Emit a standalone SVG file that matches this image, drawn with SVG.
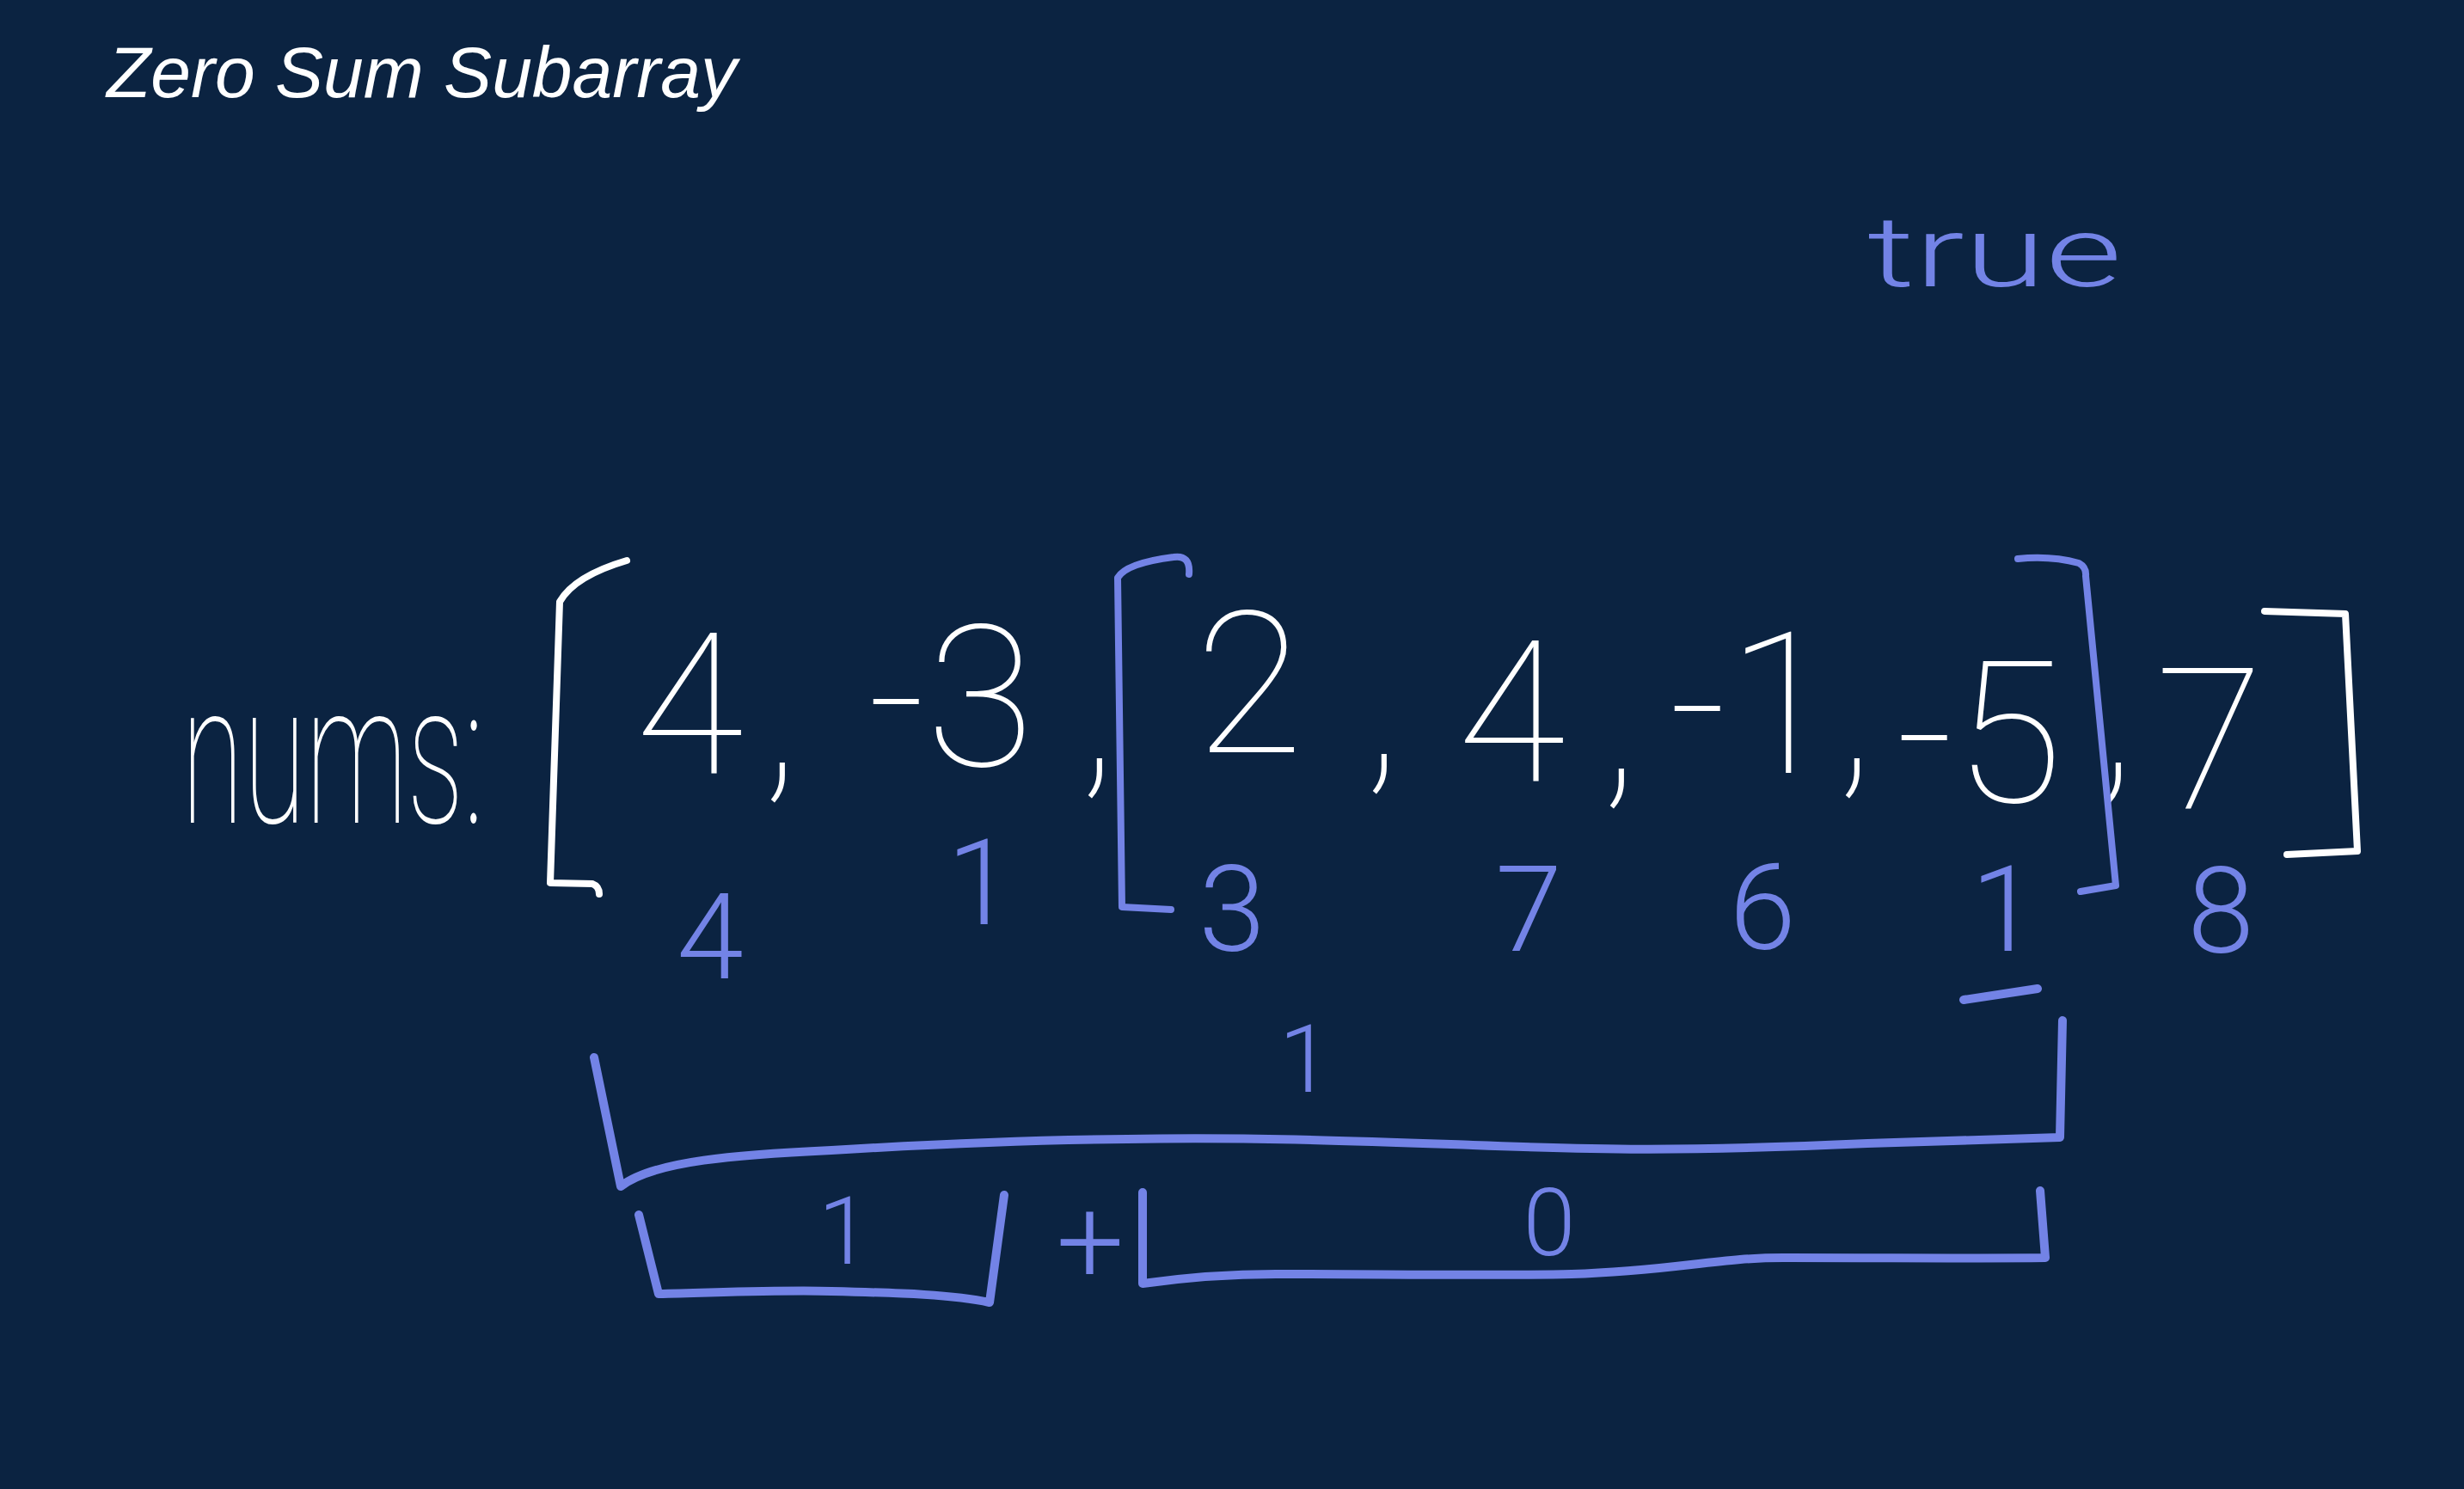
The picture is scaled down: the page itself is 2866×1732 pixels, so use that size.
<svg xmlns="http://www.w3.org/2000/svg" width="2866" height="1732" viewBox="0 0 2866 1732">
<style>
.bg{fill:#0b2341}
.title{fill:#fff;font-family:"Liberation Sans",Arial,sans-serif;font-style:italic;font-size:84px}
.hw{font-family:"Roboto","Lato",sans-serif}
.w{fill:#fff;font-weight:100}
.b{fill:#7383e6;font-weight:300}
.big{font-size:230px}
.mid{font-size:140px}
.low{font-size:110px}
.sm{font-size:115px}
.sw{fill:none;stroke:#fff;stroke-width:8;stroke-linecap:round;stroke-linejoin:round}
.sb{fill:none;stroke:#7383e6;stroke-width:8;stroke-linecap:round;stroke-linejoin:round}
.sbt{fill:none;stroke:#7383e6;stroke-width:10;stroke-linecap:round;stroke-linejoin:round}
</style>
<rect class="bg" x="0" y="0" width="2866" height="1732"/>
<g id="title"><text class="title" x="124" y="113">Zero Sum Subarray</text></g>
<g id="result"><text class="hw b sm" x="2172" y="333" textLength="296" lengthAdjust="spacingAndGlyphs">true</text></g>
<g id="array" text-anchor="middle">
<text class="hw w big" x="211" y="957" text-anchor="start" textLength="352" lengthAdjust="spacingAndGlyphs">nums:</text>
<path class="sw" d="M729 652 Q668 670 651 700 L640 1027 L689 1028 Q697 1031 697 1040"/>
<text class="hw w big" x="802" y="900">4</text>
<text class="hw w big" x="908" y="905">,</text>
<text class="hw w big" x="1106" y="891">-3</text>
<text class="hw w big" x="1277" y="900">,</text>
<text class="hw w big" x="1453" y="875">2</text>
<text class="hw w big" x="1608" y="895">,</text>
<text class="hw w big" x="1758" y="909">4</text>
<text class="hw w big" x="1884" y="912">,</text>
<text class="hw w big" x="2038" y="899">-1</text>
<text class="hw w big" x="2158" y="900">,</text>
<text class="hw w big" x="2302" y="933">-5</text>
<text class="hw w big" x="2462" y="905">,</text>
<text class="hw w big" x="2570" y="941">7</text>
<path class="sw" d="M2634 711 L2728 714 L2742 990 L2660 994"/>
</g>
<g id="subarray-bracket">
<path class="sb" d="M1383 668 Q1385 645 1365 648 Q1310 655 1300 672 L1305 1055 L1362 1058"/>
<path class="sb" d="M2347 650 Q2385 646 2418 655 Q2427 660 2426 670 L2461 1030 L2420 1037"/>
</g>
<g id="prefix-sums" text-anchor="middle">
<text class="hw b mid" x="826" y="1138">4</text>
<text class="hw b mid" x="1140" y="1075">1</text>
<text class="hw b mid" x="1433" y="1106">3</text>
<text class="hw b mid" x="1778" y="1106">7</text>
<text class="hw b mid" x="2050" y="1104">6</text>
<text class="hw b mid" x="2331" y="1106">1</text>
<text class="hw b mid" x="2583" y="1108">8</text>
<path class="sbt" d="M2284 1163 L2370 1150"/>
</g>
<g id="sum-brackets" text-anchor="middle">
<path class="sbt" d="M691 1230 L722 1380 C760 1350 860 1343 967 1338 C1100 1330 1200 1326 1311 1325 C1450 1322 1600 1328 1713 1332 C1850 1337 1950 1340 2172 1330 C2300 1326 2350 1325 2396 1323 L2399 1187"/>
<text class="hw b low" x="1518" y="1270">1</text>
<path class="sbt" d="M743 1413 L766 1505 C850 1503 920 1500 967 1502 C1050 1504 1110 1506 1151 1515 L1168 1390"/>
<text class="hw b low" x="982" y="1470">1</text>
<text class="hw b mid" x="1268" y="1492">+</text>
<path class="sbt" d="M1329 1387 L1329 1493 C1400 1483 1450 1482 1484 1482 C1600 1482 1750 1484 1828 1482 C1950 1478 2000 1462 2081 1463 C2200 1463 2300 1464 2379 1463 L2373 1385"/>
<text class="hw b low" x="1802" y="1460">0</text>
</g>
</svg>
